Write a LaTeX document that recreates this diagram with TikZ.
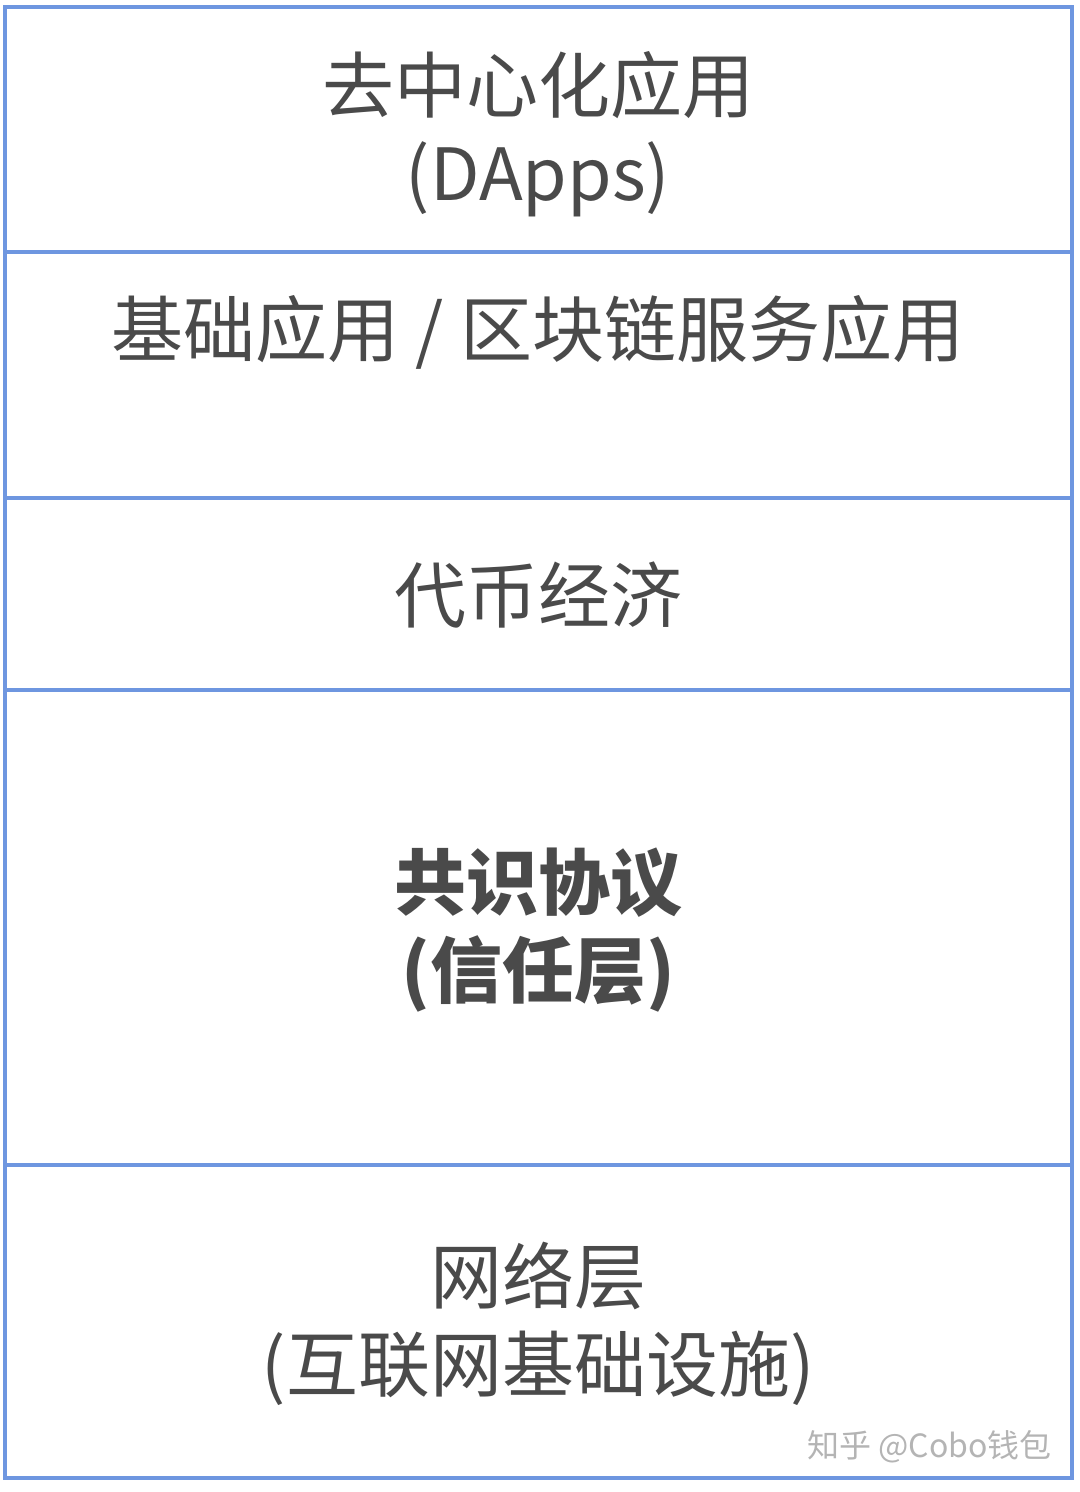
\documentclass[tikz,border=0pt]{standalone}
\usepackage{fontspec}
\usepackage{xcolor}
\setmainfont{Noto Sans CJK SC}
\definecolor{layerblue}{HTML}{6E96E0}
\definecolor{layertext}{HTML}{4A4A4A}
\definecolor{marktext}{HTML}{B4B4B4}

\begin{document}
\begin{tikzpicture}[x=0.5pt, y=-0.5pt,
	layerline/.style={draw=layerblue, line width=1.8pt},
	layerlabel/.style={text=layertext, font=\fontsize{36}{44}\selectfont, align=center, inner sep=0pt},
	strong/.style={layerlabel, font=\fontsize{36}{44}\selectfont\bfseries}]
			\useasboundingbox (0,0) rectangle (1080,1492);
			% Outer frame
			\draw[layerline] (5,7) rectangle (1072,1478);

			% Layer boundaries
			\foreach \y in {252,498,690,1165}
			\draw[layerline] (5,\y) -- (1072,\y);

			% Labels for layers
			\node[layerlabel] (dapps) at (538,134) {去中心化应用\\(DApps)};
			\node[layerlabel] (service) at (538,332) {基础应用 / 区块链服务应用};
			\node[layerlabel] (token) at (538,595) {代币经济};
			\node[strong] (consensus) at (538,930) {共识协议\\(信任层)};
			\node[layerlabel] (network) at (538,1324) {网络层\\(互联网基础设施)};

			% Watermark
			\node[text=marktext, font=\fontsize{16}{18}\selectfont, anchor=east, inner sep=0pt] (mark) at (1052,1447) {知乎 @Cobo钱包};
		\end{tikzpicture}
\end{document}
